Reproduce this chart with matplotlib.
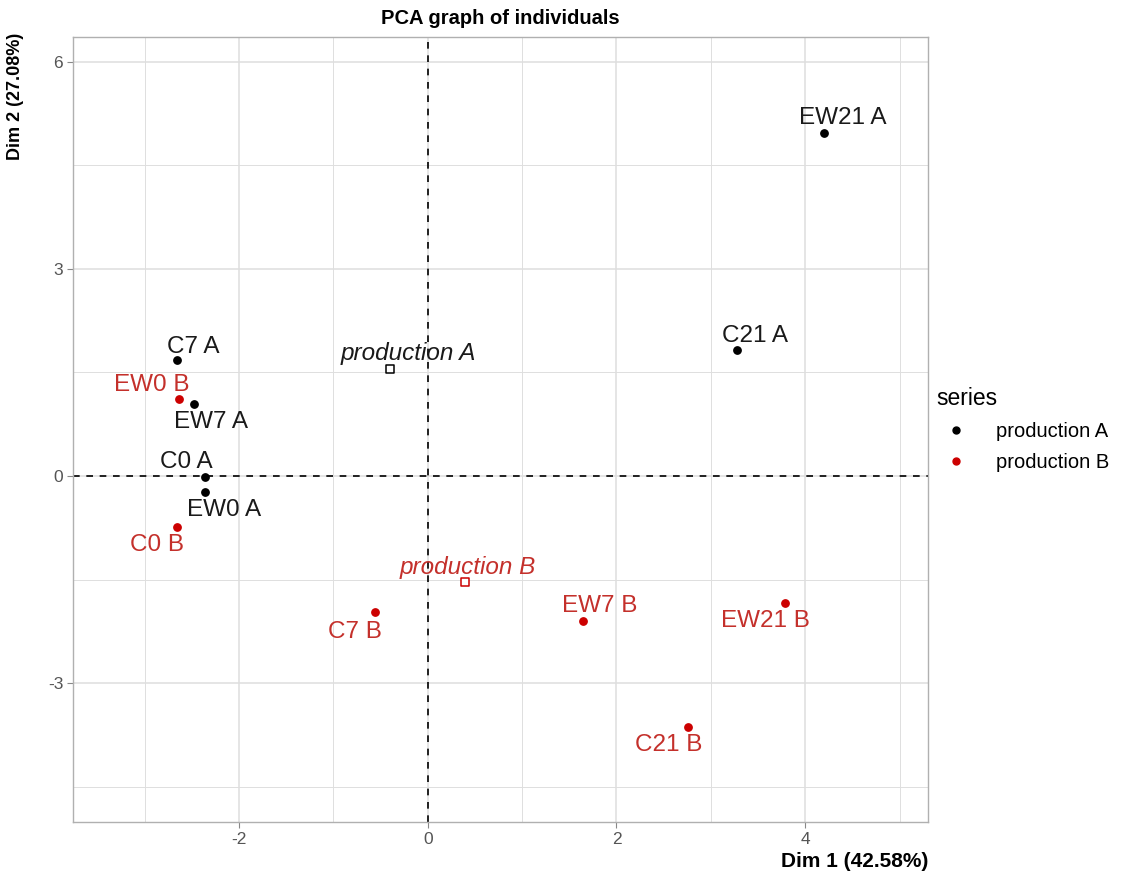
import matplotlib.pyplot as plt
from matplotlib.lines import Line2D

plt.rcParams['font.family'] = ['Liberation Sans', 'DejaVu Sans']
plt.rcParams['axes.unicode_minus'] = False

# individuals (Dim 1, Dim 2)
names_a = ['EW21 A', 'C21 A', 'C7 A', 'EW7 A', 'C0 A', 'EW0 A']
dim1_a = [4.20, 3.28, -2.66, -2.48, -2.36, -2.36]
dim2_a = [4.97, 1.83, 1.68, 1.04, -0.01, -0.23]

names_b = ['EW0 B', 'C0 B', 'C7 B', 'EW7 B', 'EW21 B', 'C21 B']
dim1_b = [-2.64, -2.66, -0.56, 1.64, 3.79, 2.76]
dim2_b = [1.12, -0.74, -1.97, -2.10, -1.84, -3.64]

# label offsets in pixels (repel-like placement)
off_a = [(19, 15), (18, 14), (17, 13), (17, -18), (-19, 15), (19, -18)]
off_b = [(-27, 14), (-20, -18), (-20, -20), (17, 15), (-20, -18), (-20, -18)]

groups = ['production A', 'production B']
centre_x = [-0.40, 0.39]
centre_y = [1.55, -1.54]
centre_off = [(18, 15), (3, 15)]

black = '#000000'
red = '#CC0000'
red_txt = '#C4302B'
grid_c = '#DEDEDE'

fig = plt.figure(figsize=(11.22, 8.74), dpi=100)
ax = fig.add_axes([0.065, 0.0595, 0.762, 0.8985])

ax.set_xlim(-3.76, 5.30)
ax.set_ylim(-5.01, 6.36)
ax.set_xticks([-2, 0, 2, 4])
ax.set_yticks([-3, 0, 3, 6])
ax.set_xticks([-3, -1, 1, 3, 5], minor=True)
ax.set_yticks([-4.5, -1.5, 1.5, 4.5], minor=True)
ax.grid(which='major', color=grid_c, lw=1.1)
ax.grid(which='minor', color=grid_c, lw=0.7)
ax.set_axisbelow(True)
for s in ax.spines.values():
    s.set_color('#B0B0B0')
    s.set_linewidth(1.0)
ax.tick_params(which='major', length=4, color='#888888', labelcolor='#555555', labelsize=12.5, pad=3)
ax.tick_params(which='minor', length=0)

ax.axhline(0, color='black', ls=(0, (4, 4)), lw=1.2, zorder=1)
ax.axvline(0, color='black', ls=(0, (4, 4)), lw=1.2, zorder=1)

ax.scatter(dim1_a, dim2_a, s=28, color=black, zorder=3)
ax.scatter(dim1_b, dim2_b, s=28, color=red, zorder=3)
ax.scatter(centre_x, centre_y, s=34, marker='s', facecolor='white',
           edgecolor=[black, red], linewidths=1.1, zorder=3)

for n, x, y, o in zip(names_a, dim1_a, dim2_a, off_a):
    ax.annotate(n, (x, y), xytext=o, textcoords='offset pixels',
                ha='center', va='center', fontsize=17.5, color='#1A1A1A')
for n, x, y, o in zip(names_b, dim1_b, dim2_b, off_b):
    ax.annotate(n, (x, y), xytext=o, textcoords='offset pixels',
                ha='center', va='center', fontsize=17.5, color=red_txt)
for g, x, y, o, c in zip(groups, centre_x, centre_y, centre_off, ['#1A1A1A', red_txt]):
    ax.annotate(g, (x, y), xytext=o, textcoords='offset pixels',
                ha='center', va='center', fontsize=17.5, style='italic', color=c)

ax.set_title('PCA graph of individuals', fontsize=14.5, fontweight='bold', pad=9)
fig.text(0.827, 0.004, 'Dim 1 (42.58%)', ha='right', va='bottom',
         fontsize=15, fontweight='bold')
fig.text(0.006, 0.962, 'Dim 2 (27.08%)', ha='left', va='top', rotation=90,
         fontsize=13, fontweight='bold')

handles = [Line2D([], [], marker='o', ls='', color=black, markersize=5),
           Line2D([], [], marker='o', ls='', color=red, markersize=5)]
leg = fig.legend(handles, groups, title='series', loc='upper left',
                 bbox_to_anchor=(0.818, 0.578), frameon=False, fontsize=14.5,
                 title_fontsize=16.5, handletextpad=1.0, labelspacing=0.6)
leg._legend_box.align = 'left'

fig.savefig('out.png', dpi=100)
